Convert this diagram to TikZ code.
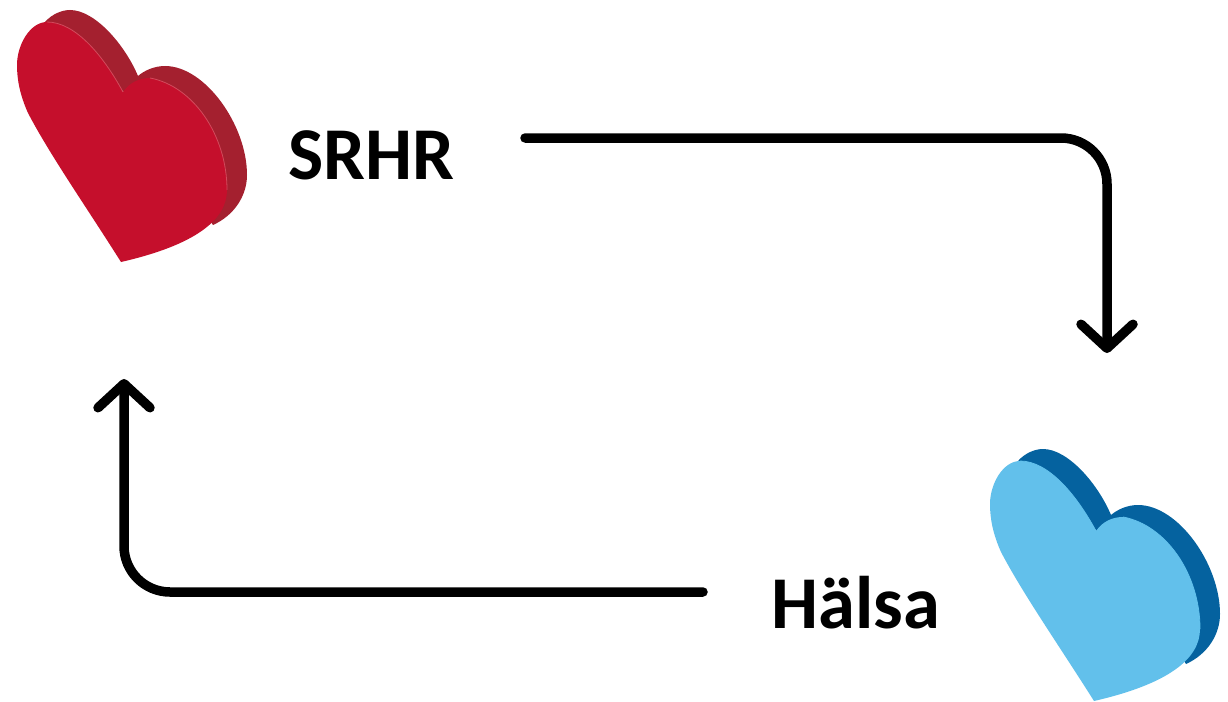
\documentclass[tikz,border=0pt]{standalone}
\usepackage{fontspec}
\setmainfont{Carlito}
\usetikzlibrary{arrows.meta}
\definecolor{redfront}{HTML}{C50F2C}
\definecolor{redback}{HTML}{A4202F}
\definecolor{redline}{HTML}{D24A5C}
\definecolor{bluefront}{HTML}{62C0EB}
\definecolor{blueback}{HTML}{05629F}
\tikzset{
  x=1pt,y=-1pt,
  lab/.style={font=\bfseries\fontsize{74.5}{74.5}\selectfont,text=black,inner sep=0pt,anchor=base west},
  flow/.style={line width=9.5pt,line cap=round,line join=round,rounded corners=46pt,
    -{Straight Barb[length=24pt,width=52pt,line width=9.5pt,round]}},
}
\newcommand{\heartshape}[5]{%
  \begin{scope}[shift={(#1,#2)}]
    \fill[#3] (45,22) .. controls (52,14) and (62,10) .. (70,10)
      .. controls (95,10) and (125,45) .. (138,76)
      .. controls (145,70) and (155,66) .. (165,66)
      .. controls (205,66) and (247,125) .. (247,175)
      .. controls (247,195) and (235,215) .. (213,225)
      -- (124,92) -- cycle;
    \fill[#4] (121,262) .. controls (85,205) and (50,155) .. (28,113)
      .. controls (20,95) and (17,80) .. (17,65)
      .. controls (17,45) and (30,22) .. (47,22)
      .. controls (75,22) and (103,55) .. (123,92)
      .. controls (130,82) and (140,78) .. (150,78)
      .. controls (193,86) and (227,135) .. (227,190)
      .. controls (227,220) and (195,245) .. (121,262) -- cycle;
    \draw[#5,line width=0.8pt] (47,22) .. controls (75,22) and (103,55) .. (123,92);
    \draw[#5,line width=0.8pt] (150,78) .. controls (193,86) and (227,135) .. (227,190);
  \end{scope}}
\begin{document}
\begin{tikzpicture}
\useasboundingbox (0,0) rectangle (1228,701);
\fill[white] (0,0) rectangle (1228,701);
\heartshape{0}{0}{redback}{redfront}{redline}
\heartshape{973}{439}{blueback}{bluefront}{bluefront}
\node[lab] (srhr) at (288,179) {SRHR};
\node[lab] (halsa) at (771,628) {Hälsa};
\coordinate (a1) at (525,138);
\coordinate (a2) at (1107,138);
\coordinate (a3) at (1107,353);
\coordinate (b1) at (703,592);
\coordinate (b2) at (124,592);
\coordinate (b3) at (124,379);
\draw[flow] (a1) -- (a2) -- (a3);
\draw[flow] (b1) -- (b2) -- (b3);
\end{tikzpicture}
\end{document}
